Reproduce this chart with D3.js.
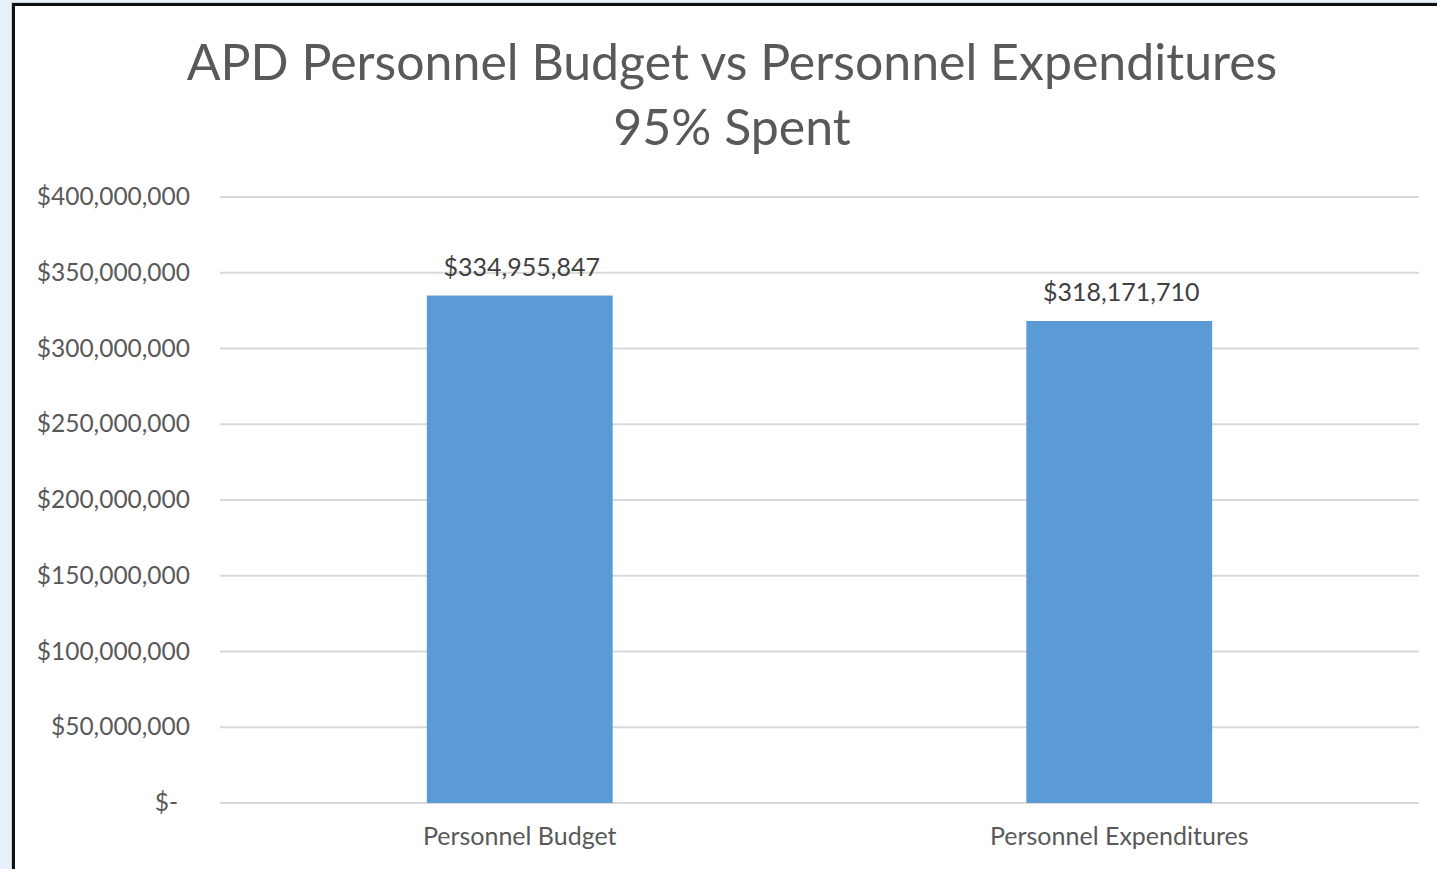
<!DOCTYPE html>
<html>
<head>
<meta charset="utf-8">
<script src="https://cdn.jsdelivr.net/npm/d3@7"></script>
<style>
  html, body { margin: 0; padding: 0; background: #e8f1fb; }
  svg { display: block; }
</style>
</head>
<body>
<div id="chart"></div>
<script>
// chart data
const categories = ["Personnel Budget", "Personnel Expenditures"];
const amounts = [334955847, 318171710];
const tickValues = [0, 50000000, 100000000, 150000000, 200000000, 250000000, 300000000, 350000000, 400000000];
const titleLines = ["APD Personnel Budget vs Personnel Expenditures", "95% Spent"];

const width = 1437, height = 869;
const plot = {left: 220, right: 1419, top: 197, bottom: 803};
const font = "Lato, 'Open Sans', sans-serif";

const svg = d3.select("#chart")
  .append("svg")
  .attr("width", width)
  .attr("height", height);

// chart frame (white area with dark border on left and top)
svg.append("rect")
  .attr("x", 11).attr("y", 2)
  .attr("width", width).attr("height", height)
  .attr("fill", "#d0d4d8");
svg.append("rect")
  .attr("x", 12).attr("y", 3)
  .attr("width", width).attr("height", height)
  .attr("fill", "#111");
svg.append("rect")
  .attr("x", 15).attr("y", 6)
  .attr("width", width).attr("height", height)
  .attr("fill", "#fff");

const x = d3.scaleBand()
  .domain(categories)
  .range([plot.left, plot.right])
  .paddingInner(0.69)
  .paddingOuter(0.345);

const y = d3.scaleLinear()
  .domain([0, 400000000])
  .range([plot.bottom, plot.top]);

/* gridlines */
svg.append("g")
  .selectAll("line")
  .data(tickValues)
  .enter().append("line")
  .attr("x1", plot.left)
  .attr("x2", plot.right)
  .attr("y1", d => y(d))
  .attr("y2", d => y(d))
  .attr("stroke", "#d9d9d9")
  .attr("stroke-width", 2);

/* y axis labels */
const money = d3.format("$,.0f");
svg.append("g")
  .selectAll("text")
  .data(tickValues)
  .enter().append("text")
  .attr("x", d => d === 0 ? 178 : 190)
  .attr("y", d => y(d) + 8)
  .attr("text-anchor", "end")
  .style("font-family", font)
  .style("font-size", "24.5px")
  .attr("fill", "#595959")
  .text(d => d === 0 ? "$-" : money(d));

/* bars */
svg.append("g")
  .selectAll("rect")
  .data(amounts)
  .enter().append("rect")
  .attr("x", (d, i) => x(categories[i]))
  .attr("y", d => y(d))
  .attr("width", x.bandwidth())
  .attr("height", d => y(0) - y(d))
  .attr("fill", "#5b9bd5");

/* data labels */
svg.append("g")
  .selectAll("text")
  .data(amounts)
  .enter().append("text")
  .attr("x", (d, i) => x(categories[i]) + x.bandwidth() / 2 + 2)
  .attr("y", d => y(d) - 20)
  .attr("text-anchor", "middle")
  .style("font-family", font)
  .style("font-size", "25px")
  .attr("fill", "#404040")
  .text(d => money(d));

/* category labels */
svg.append("g")
  .selectAll("text")
  .data(categories)
  .enter().append("text")
  .attr("x", d => x(d) + x.bandwidth() / 2)
  .attr("y", 845)
  .attr("text-anchor", "middle")
  .style("font-family", font)
  .style("font-size", "25px")
  .attr("fill", "#595959")
  .text(d => d);

/* title */
svg.append("g")
  .selectAll("text")
  .data(titleLines)
  .enter().append("text")
  .attr("x", 732)
  .attr("y", (d, i) => 80 + i * 65)
  .attr("text-anchor", "middle")
  .style("font-family", font)
  .style("font-size", "50px")
  .attr("fill", "#595959")
  .text(d => d);
</script>
</body>
</html>
